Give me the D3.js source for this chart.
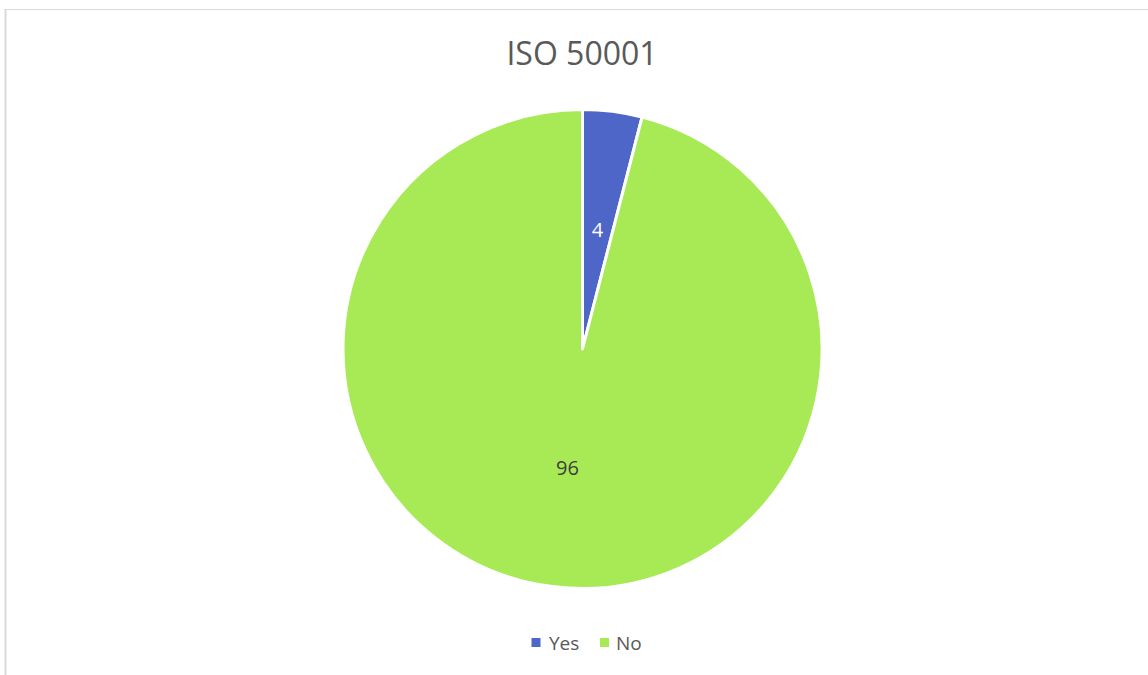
<!DOCTYPE html>
<html><head><meta charset="utf-8">
<script src="https://cdn.jsdelivr.net/npm/d3@7"></script>
<style>body{margin:0;background:#fff;}svg{display:block;font-family:"Open Sans",sans-serif;}</style>
</head><body>
<svg id="c" width="1148" height="675"></svg>
<script>
const title = "ISO 50001";
const categories = ["Yes", "No"];
const values = [4, 96];
const colors = ["#4E66C8", "#A8EA55"];

const svg = d3.select("#c");
// chart frame (extends beyond window on right/bottom)
svg.append("rect").attr("x", 5.5).attr("y", 9.5).attr("width", 1160).attr("height", 700)
  .attr("fill", "#fff").attr("stroke", "#d9d9d9").attr("stroke-width", 1);
svg.append("line").attr("x1", 5.5).attr("x2", 5.5).attr("y1", 9).attr("y2", 675)
  .attr("stroke", "#d9d9d9").attr("stroke-width", 2);

svg.append("text").attr("x", 582).attr("y", 65).attr("text-anchor", "middle")
  .attr("font-size", 32).attr("fill", "#595959").text(title);

const cx = 582.5, cy = 349, R = 239.5;
const data = categories.map((c, i) => ({cat: c, v: values[i], col: colors[i]}));
const pie = d3.pie().value(d => d.v).sort(null);
const arc = d3.arc().innerRadius(0).outerRadius(R);
const lab = d3.arc().innerRadius(R / 2).outerRadius(R / 2);
const g = svg.append("g").attr("transform", `translate(${cx},${cy})`);
const arcs = pie(data);
g.selectAll("path").data(arcs).join("path")
  .attr("d", arc).attr("fill", d => d.data.col)
  .attr("stroke", "#fff").attr("stroke-width", 3).attr("stroke-linejoin", "round");
g.selectAll("text").data(arcs).join("text")
  .attr("transform", d => `translate(${lab.centroid(d)})`)
  .attr("text-anchor", "middle").attr("dy", "0.35em")
  .attr("font-size", 20)
  .attr("fill", (d, i) => i === 0 ? "#ffffff" : "#404040")
  .text(d => d.data.v);

// legend
const leg = svg.append("g");
const items = [{x: 531.5, tx: 549}, {x: 600, tx: 616}];
data.forEach((d, i) => {
  leg.append("rect").attr("x", items[i].x).attr("y", 638).attr("width", 9).attr("height", 9).attr("fill", d.col);
  leg.append("text").attr("x", items[i].tx).attr("y", 650).attr("font-size", 19).attr("fill", "#595959").text(d.cat);
});
</script>
</body></html>
